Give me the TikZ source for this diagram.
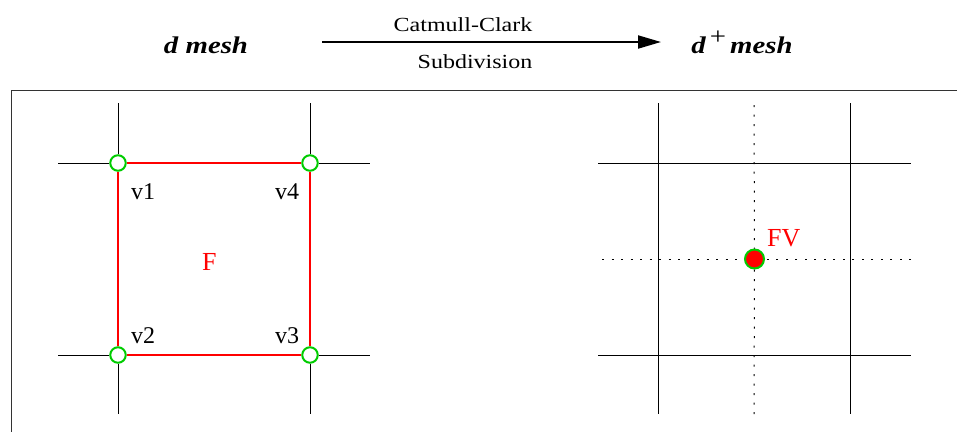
\documentclass[tikz,border=0pt]{standalone}
\usepackage{fontspec}
\setmainfont{Liberation Serif}
\newfontfamily\wideserif[FakeStretch=1.2]{Liberation Serif}
\usepackage{tikz}
\usetikzlibrary{positioning,arrows.meta}
\usepackage{xcolor}
\definecolor{vgreen}{RGB}{0,204,0}

\begin{document}
\begin{tikzpicture}[x=1pt, y=-1pt,
    every node/.style={inner sep=0pt},
    vertex/.style={circle, draw=vgreen, line width=2pt, fill=white, minimum size=15.5pt},
    fvertex/.style={circle, draw=vgreen, line width=2pt, fill=red, minimum size=19pt},
    lbl/.style={anchor=base west, font=\fontsize{24}{24}\selectfont},
    title/.style={anchor=base, font=\wideserif\bfseries\itshape\fontsize{24}{24}\selectfont},
    caption/.style={anchor=base, font=\wideserif\fontsize{20}{20}\selectfont},
    mline/.style={line width=0.8pt},
    dots/.style={line width=1pt, dash pattern=on 2pt off 7.5pt}]
    \useasboundingbox (0,0) rectangle (957,432);

    % Naglowek

    \node[title] (dmesh) at (206,53) {d mesh};
    \node[title] (dplus) at (742,53) {d\,\raisebox{9pt}{\upshape\mdseries\fontsize{24}{24}\selectfont +}\,mesh};
    \node[caption] (cc) at (463,31) {Catmull-Clark};
    \node[caption] (sub) at (475,68) {Subdivision};
    \coordinate (as) at (322,42);
    \coordinate (ae) at (661,42);
    \draw[line width=2pt, -{Triangle[length=23pt,width=13pt]}] (as) -- (ae);

    % Ramka

    \draw[line width=0.8pt, black!80] (957,90.5) -| (11,432);

    % Lewa siatka

    \coordinate (t1) at (118,103);
    \coordinate (t4) at (310,103);
    \coordinate (b2) at (118,414);
    \coordinate (b3) at (310,414);
    \coordinate (l1) at (58,163);
    \coordinate (l2) at (58,355);
    \coordinate (r4) at (370,163);
    \coordinate (r3) at (370,355);

    \node[vertex] (v1) at (118,163) {};
    \node[vertex] (v4) at (310,163) {};
    \node[vertex] (v2) at (118,355) {};
    \node[vertex] (v3) at (310,355) {};

    \draw[mline] (t1) -- (v1);
    \draw[mline] (t4) -- (v4);
    \draw[mline] (v2) -- (b2);
    \draw[mline] (v3) -- (b3);
    \draw[mline] (l1) -- (v1);
    \draw[mline] (l2) -- (v2);
    \draw[mline] (v4) -- (r4);
    \draw[mline] (v3) -- (r3);

    \draw[red, line width=2pt] (v1) -- (v4);
    \draw[red, line width=2pt] (v4) -- (v3);
    \draw[red, line width=2pt] (v3) -- (v2);
    \draw[red, line width=2pt] (v2) -- (v1);

    \node[lbl] (lv1) at (131,199) {v1};
    \node[lbl] (lv4) at (275,199) {v4};
    \node[lbl] (lv2) at (131,343) {v2};
    \node[lbl] (lv3) at (275,343) {v3};
    \node[lbl, red, font=\fontsize{26}{26}\selectfont] (lf) at (202,270) {F};

    % Prawa siatka

    \coordinate (rt1) at (658,103);
    \coordinate (rb1) at (658,414);
    \coordinate (rt2) at (850,103);
    \coordinate (rb2) at (850,414);
    \coordinate (rl1) at (598,163);
    \coordinate (rr1) at (911,163);
    \coordinate (rl2) at (598,355);
    \coordinate (rr2) at (911,355);
    \coordinate (ft) at (754,105);
    \coordinate (fb) at (754,414);
    \coordinate (fl) at (602,259);
    \coordinate (fr) at (911,259);

    \draw[mline] (rt1) -- (rb1);
    \draw[mline] (rt2) -- (rb2);
    \draw[mline] (rl1) -- (rr1);
    \draw[mline] (rl2) -- (rr2);

    \node[fvertex] (fv) at (754.5,259) {};

    \draw[dots] (ft) -- (fv);
    \draw[dots] (fb) -- (fv);
    \draw[dots] (fl) -- (fv);
    \draw[dots] (fr) -- (fv);

    \node[lbl, red, font=\fontsize{26}{26}\selectfont] (lfv) at (767,246) {FV};

\end{tikzpicture}
\end{document}
